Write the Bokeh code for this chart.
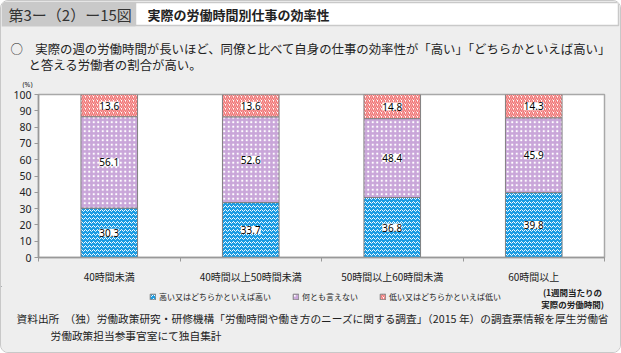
import numpy as np
from bokeh.plotting import figure
from bokeh.models import (Range1d, FixedTicker, ColumnDataSource, LabelSet,
                          Legend, LegendItem)
from bokeh.layouts import column
from bokeh.core.properties import value
from bokeh.embed import file_html
from bokeh.resources import INLINE

# ---------------- data ----------------
categories = ["40時間未満", "40時間以上50時間未満", "50時間以上60時間未満", "60時間以上"]
high = [30.3, 33.7, 36.8, 39.8]       # 高い又はどちらかといえば高い
neutral = [56.1, 52.6, 48.4, 45.9]    # 何とも言えない
low = [13.6, 13.6, 14.8, 14.3]        # 低い又はどちらかといえば低い
series_names = ["高い又はどちらかといえば高い", "何とも言えない", "低い又はどちらかといえば低い"]
y_ticks = [0, 10, 20, 30, 40, 50, 60, 70, 80, 90, 100]

fig_label = "第3ー（2）ー15図"
fig_title = "実際の労働時間別仕事の効率性"
subtitle_1 = "○　実際の週の労働時間が長いほど、同僚と比べて自身の仕事の効率性が「高い」「どちらかといえば高い」"
subtitle_2 = "と答える労働者の割合が高い。"
unit_label = "(%)"
axis_note_1 = "(1週間当たりの"
axis_note_2 = "実際の労働時間)"
source_1 = "資料出所　（独）労働政策研究・研修機構「労働時間や働き方のニーズに関する調査」（2015 年）の調査票情報を厚生労働省"
source_2 = "労働政策担当参事官室にて独自集計"

# ---------------- styles ----------------
JP = value("Noto Sans CJK JP")
NUM = value("Noto Sans")
BG = "#eeeeee"
W = 619
styles = [
    dict(fill_color="#1a9ce3", hatch_pattern="horizontal_wave", hatch_color="white",
         hatch_scale=4, hatch_weight=1, line_color="#808080", line_width=1),
    dict(fill_color="#c9a6d9", hatch_pattern="dot", hatch_color="white",
         hatch_scale=4.5, hatch_weight=1.5, line_color="#808080", line_width=1),
    dict(fill_color="white", hatch_pattern="right_diagonal_line", hatch_color="#f07373",
         hatch_scale=4, hatch_weight=1.5, line_color="#808080", line_width=1),
]


def blank_fig(h, top, bottom):
    p = figure(width=W, height=h, x_range=Range1d(1, 620), y_range=Range1d(bottom, top),
               output_backend="svg", toolbar_location=None, min_border=0,
               x_axis_location=None, y_axis_location=None, frame_align=False,
               background_fill_color=BG, border_fill_color=BG, outline_line_color=None)
    p.grid.visible = False
    return p


# ---------------- header ----------------
top = blank_fig(87, 1, 88)
top.quad(left=[1], right=[135], top=[1], bottom=[26], fill_color="#c9c9c9", line_color=None)
top.quad(left=[135], right=[618], top=[2], bottom=[25], fill_color="white",
         line_color="#c9c9c9", line_width=1.5)
top.text(x=[8], y=[14], text=[fig_label], text_font=JP, text_font_size="15px",
         text_color="#333333", text_baseline="middle")
top.text(x=[147], y=[14], text=[fig_title], text_font=JP, text_font_size="13px",
         text_font_style="bold", text_color="#222222", text_baseline="middle")
top.text(x=[10], y=[48], text=[subtitle_1], text_font=JP, text_font_size="12.4px",
         text_color="#222222", text_baseline="middle")
top.text(x=[28], y=[64], text=[subtitle_2], text_font=JP, text_font_size="12.4px",
         text_color="#222222", text_baseline="middle")
top.text(x=[27], y=[84], text=[unit_label], text_font=NUM, text_font_size="7px",
         text_color="#222222", text_baseline="middle", text_align="center")

# ---------------- chart ----------------
n = len(categories)
xc = [i + 0.5 for i in range(n)]
h = np.array(high)
m = np.array(neutral)
l = np.array(low)
b1 = h
b2 = h + m

chart = figure(width=W, height=198, x_range=Range1d(0, n), y_range=Range1d(0, 100),
               output_backend="svg", toolbar_location=None, frame_align=False,
               min_border_left=37, min_border_right=16, min_border_top=6, min_border_bottom=20,
               background_fill_color="white", border_fill_color=BG,
               outline_line_color="#a8a8a8", outline_line_width=1.5)
chart.grid.visible = False

src = ColumnDataSource(dict(x=xc, b0=np.zeros(n), t0=h, b1=b1, t1=b1 + m, b2=b2, t2=b2 + l))
chart.vbar(x="x", bottom="b0", top="t0", width=0.4, source=src, **styles[0])
chart.vbar(x="x", bottom="b1", top="t1", width=0.4, source=src, **styles[1])
chart.vbar(x="x", bottom="b2", top="t2", width=0.4, source=src, **styles[2])

lab_src = ColumnDataSource(dict(
    x=xc * 3,
    y=list(h / 2) + list(b1 + m / 2) + list(b2 + l / 2),
    t=[f"{v:.1f}" for v in high + neutral + low],
))
chart.add_layout(LabelSet(x="x", y="y", text="t", source=lab_src, text_align="center",
                          text_baseline="middle", text_font=NUM, text_font_size="10px",
                          text_color="black", background_fill_color="white"))

ya = chart.yaxis[0]
ya.ticker = FixedTicker(ticks=y_ticks)
ya.major_label_text_font = "Noto Sans"
ya.major_label_text_font_size = "10.5px"
ya.major_label_text_color = "#222222"
ya.major_tick_out = 4
ya.major_tick_in = 0
ya.minor_tick_line_color = None
ya.axis_line_color = "#999999"
ya.axis_line_width = 1.5
ya.major_tick_line_color = "#999999"
ya.major_label_standoff = 3

xa = chart.xaxis[0]
xa.ticker = FixedTicker(ticks=xc, minor_ticks=list(range(n + 1)))
xa.major_label_overrides = {x: c for x, c in zip(xc, categories)}
xa.major_label_text_font = "Noto Sans CJK JP"
xa.major_label_text_font_size = "10px"
xa.major_label_text_color = "#222222"
xa.major_tick_out = 0
xa.major_tick_in = 0
xa.major_tick_line_color = None
xa.minor_tick_out = 4
xa.minor_tick_in = 0
xa.minor_tick_line_color = "#999999"
xa.axis_line_color = "#999999"
xa.axis_line_width = 1.5
xa.major_label_standoff = 7

# ---------------- legend + footer ----------------
bottom = blank_fig(66, 286, 352)
# legend swatches: zero-height stand-ins placed outside the visible range,
# they only lend their fill / hatch style to the legend
dummies = [bottom.vbar(x=[-100], bottom=[0], top=[0], width=1, **s) for s in styles]
legend = Legend(items=[LegendItem(label=name, renderers=[r]) for name, r in zip(series_names, dummies)],
                location=(148, 50), orientation="horizontal", glyph_width=7, glyph_height=7,
                label_standoff=3, spacing=21, padding=0, margin=0, label_height=10,
                label_text_font="Noto Sans CJK JP", label_text_font_size="8px",
                label_text_color="#222222", border_line_color=None, background_fill_alpha=0)
bottom.add_layout(legend)
bottom.text(x=[572, 572], y=[291, 303], text=[axis_note_1, axis_note_2], text_font=JP,
            text_font_size="8.5px", text_font_style="bold", text_color="#222222",
            text_align="center", text_baseline="middle")
bottom.text(x=[16], y=[318], text=[source_1], text_font=JP, text_font_size="10.7px",
            text_color="#222222", text_baseline="middle")
bottom.text(x=[50], y=[335], text=[source_2], text_font=JP, text_font_size="10.7px",
            text_color="#222222", text_baseline="middle")

layout = column(top, chart, bottom, spacing=0,
                styles={"border": "1px solid #c8c8c8", "border-radius": "8px",
                        "background-color": BG, "overflow": "hidden"})

open("out.html", "w").write(file_html(layout, INLINE))
